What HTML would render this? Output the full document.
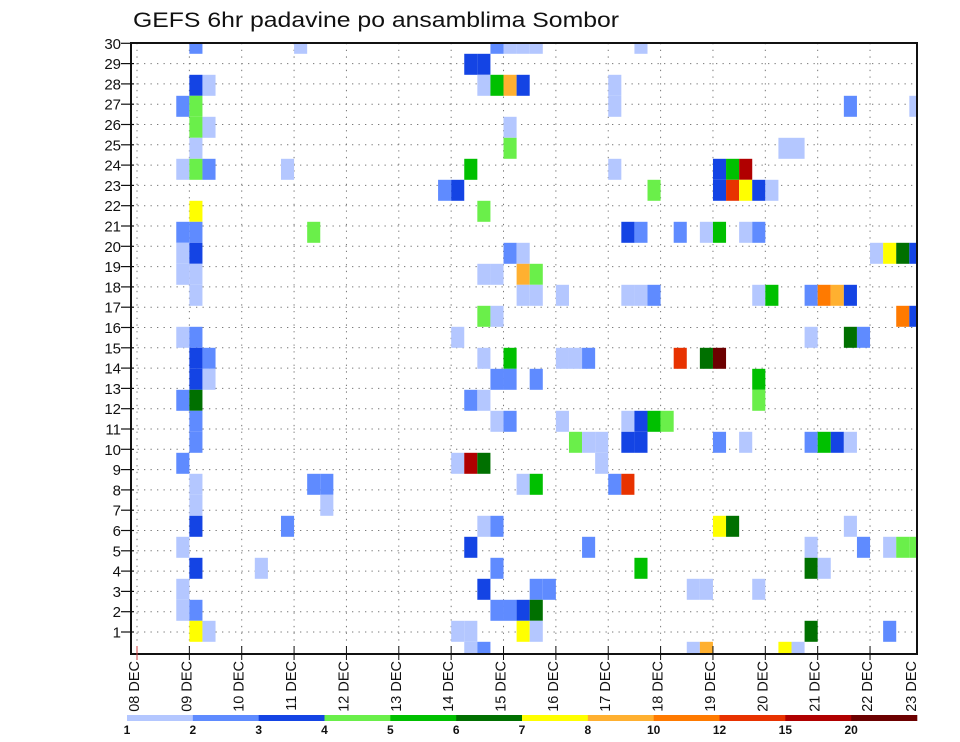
<!DOCTYPE html>
<html><head><meta charset="utf-8">
<style>
html,body{margin:0;padding:0;background:#fff;}
svg{display:block;font-family:"Liberation Sans",sans-serif;}
</style></head>
<body>
<svg id="chart" width="960" height="742" viewBox="0 0 960 742" xmlns="http://www.w3.org/2000/svg">
<text x="133" y="27" font-size="21" textLength="486" lengthAdjust="spacingAndGlyphs" fill="#111">GEFS 6hr padavine po ansamblima Sombor</text>
<g id="grid"></g>
<g id="cells"></g>
<rect x="131" y="43" width="786" height="611" fill="none" stroke="#111" stroke-width="2"/>
<g id="axes"></g>
<g id="colorbar"></g>
</svg>
<script>
// time step index (6hr steps from 08 DEC 00Z)
const cellStep = [4,12,27,28,29,30,38, 25,26, 4,5,26,27,28,29,36, 3,4,36,54,59, 4,5,28, 4,28,49,50,
 3,4,5,11,25,36,44,45,46, 23,24,39,44,45,46,47,48, 4,26, 3,4,13,37,38,41,43,44,46,47,
 3,4,28,29,56,57,58,59, 3,4,26,27,29,30, 4,29,30,32,37,38,39,47,48,51,52,53,54,
 26,27,58,59, 3,4,24,51,54,55, 4,5,26,28,32,33,34,41,43,44, 4,5,27,28,30,47,
 3,4,25,26,47, 4,27,28,32,37,38,39,40, 4,33,34,35,37,38,44,46,51,52,53,54,
 3,24,25,26,35, 4,13,14,29,30,36,37, 4,14, 4,11,26,27,44,45,54,
 3,25,34,51,55,57,58,59, 4,9,27,38,51,52, 3,26,30,31,42,43,47,
 3,4,27,28,29,30, 4,5,24,25,29,30,51,57, 25,26,42,43,49,50];
// ensemble member (row)
const cellMember = [30,30,30,30,30,30,30, 29,29, 28,28,28,28,28,28,28, 27,27,27,27,27, 26,26,26, 25,25,25,25,
 24,24,24,24,24,24,24,24,24, 23,23,23,23,23,23,23,23, 22,22, 21,21,21,21,21,21,21,21,21,21,
 20,20,20,20,20,20,20,20, 19,19,19,19,19,19, 18,18,18,18,18,18,18,18,18,18,18,18,18,
 17,17,17,17, 16,16,16,16,16,16, 15,15,15,15,15,15,15,15,15,15, 14,14,14,14,14,14,
 13,13,13,13,13, 12,12,12,12,12,12,12,12, 11,11,11,11,11,11,11,11,11,11,11,11,
 10,10,10,10,10, 9,9,9,9,9,9,9, 8,8, 7,7,7,7,7,7,7,
 6,6,6,6,6,6,6,6, 5,5,5,5,5,5, 4,4,4,4,4,4,4,
 3,3,3,3,3,3, 2,2,2,2,2,2,2,2, 1,1,1,1,1,1];
// 6hr precipitation (mm)
const cellPrecip = [2.5,1.5,2.5,1.5,1.5,1.5,1.5, 3.5,3.5, 3.5,1.5,1.5,5.5,9,3.5,1.5, 2.5,4.5,1.5,2.5,1.5, 4.5,1.5,1.5, 1.5,4.5,1.5,1.5,
 1.5,4.5,2.5,1.5,5.5,1.5,3.5,5.5,17, 2.5,3.5,4.5,3.5,13.5,7.5,3.5,1.5, 7.5,4.5, 2.5,2.5,4.5,3.5,2.5,2.5,1.5,5.5,1.5,2.5,
 1.5,3.5,2.5,1.5,1.5,7.5,6.5,3.5, 1.5,1.5,1.5,1.5,9,4.5, 1.5,1.5,1.5,1.5,1.5,1.5,2.5,1.5,5.5,2.5,11,9,3.5,
 4.5,1.5,11,3.5, 1.5,2.5,1.5,1.5,6.5,2.5, 3.5,2.5,1.5,5.5,1.5,1.5,2.5,13.5,6.5,24, 3.5,1.5,2.5,2.5,2.5,5.5,
 2.5,6.5,2.5,1.5,4.5, 2.5,1.5,2.5,1.5,1.5,3.5,5.5,4.5, 2.5,4.5,1.5,1.5,3.5,3.5,2.5,1.5,2.5,5.5,3.5,1.5,
 2.5,1.5,17,6.5,1.5, 1.5,2.5,2.5,1.5,5.5,2.5,13.5, 1.5,1.5, 3.5,2.5,1.5,2.5,7.5,6.5,1.5,
 1.5,3.5,2.5,1.5,2.5,1.5,4.5,4.5, 3.5,1.5,2.5,5.5,6.5,1.5, 1.5,3.5,2.5,2.5,1.5,1.5,1.5,
 1.5,2.5,2.5,2.5,3.5,6.5, 7.5,1.5,1.5,1.5,7.5,1.5,6.5,2.5, 1.5,2.5,1.5,9,7.5,1.5];
const dayLabels = ["08 DEC","09 DEC","10 DEC","11 DEC","12 DEC","13 DEC","14 DEC","15 DEC","16 DEC","17 DEC","18 DEC","19 DEC","20 DEC","21 DEC","22 DEC","23 DEC"];
const yTicks = [1,2,3,4,5,6,7,8,9,10,11,12,13,14,15,16,17,18,19,20,21,22,23,24,25,26,27,28,29,30];
const levels = [1,2,3,4,5,6,7,8,10,12,15,20];
const levelColors = ["#b4c7ff","#5f8bff","#1444e4","#6aef4a","#00c000","#007000","#ffff00","#ffb030","#ff7a00","#e83200","#b00000","#6c0000"];

const NS="http://www.w3.org/2000/svg";
const X0=137.0, STEP=13.09, Y30=43.3, ROWH=21, TICKH=20.3;
const L=131,R=917,T=43,B=654;
function xStep(k){return X0+STEP*k;}
function yRow(r){return Y30+(30-r)*ROWH;}
function yTick(n){return Y30+(30-n)*TICKH;}
function colorFor(v){let c=0;for(let i=0;i<levels.length;i++){if(v>=levels[i])c=i;}return levelColors[c];}
function mk(tag,attrs,parent){const e=document.createElementNS(NS,tag);for(const k in attrs)e.setAttribute(k,attrs[k]);parent.appendChild(e);return e;}

const grid=document.getElementById('grid');
yTicks.forEach(n=>{ if(n===30) return; const y=yTick(n);
  const l=mk('line',{x1:L,x2:R,y1:y,y2:y,stroke:'#777','stroke-width':1,'stroke-dasharray':'1.3 5.2'},grid);
  
  
});
dayLabels.forEach((d,i)=>{ const x=xStep(i*4); if(x>R) return;
  const l=mk('line',{x1:x,x2:x,y1:T,y2:B,stroke:'#777','stroke-width':1,'stroke-dasharray':'1.3 5.4'},grid);
  
  
});

const cells=document.getElementById('cells');
const clip=mk('clipPath',{id:'pc'},cells); mk('rect',{x:L,y:T,width:R-L,height:B-T},clip);
cells.setAttribute('clip-path','url(#pc)');
for(let i=0;i<cellStep.length;i++){
  const x=xStep(cellStep[i]), y=yRow(cellMember[i])-ROWH/2;
  const c=mk('rect',{x:x,y:y,width:STEP,height:ROWH,fill:colorFor(cellPrecip[i])},cells);
  
  
}

const axes=document.getElementById('axes');
yTicks.forEach(n=>{ const y=yTick(n);
  const t=mk('line',{x1:121,x2:134,y1:y,y2:y,stroke:'#111','stroke-width':1.2},axes);
  
  
  const lb=mk('text',{x:121,y:y+5.5,'font-size':15,'text-anchor':'end',fill:'#111'},axes);
  lb.textContent=n;
  
  
});
dayLabels.forEach((d,i)=>{ const x=xStep(i*4);
  if(x<=R){ const t=mk('line',{x1:x,x2:x,y1:646,y2:660,stroke:i===0?'#d04040':'#111','stroke-width':1},axes);
    
     }
  const tx=Math.min(x,914)+2;
  const lb=mk('text',{x:0,y:0,'font-size':14.5,'text-anchor':'end',fill:'#111',transform:`translate(${tx},661) rotate(-90)`},axes);
  lb.textContent=d;
  
  
});

const cb=document.getElementById('colorbar');
const CB0=127, CBW=(917-127)/levels.length;
levels.forEach((lv,i)=>{
  const r=mk('rect',{x:CB0+i*CBW,y:715,width:CBW+0.3,height:6,fill:levelColors[i]},cb);
  
  
  const t=mk('text',{x:CB0+i*CBW,y:734,'font-size':12,'font-weight':'bold','text-anchor':'middle',fill:'#111'},cb);
  t.textContent=lv;
  
  
});
</script>
</body></html>
